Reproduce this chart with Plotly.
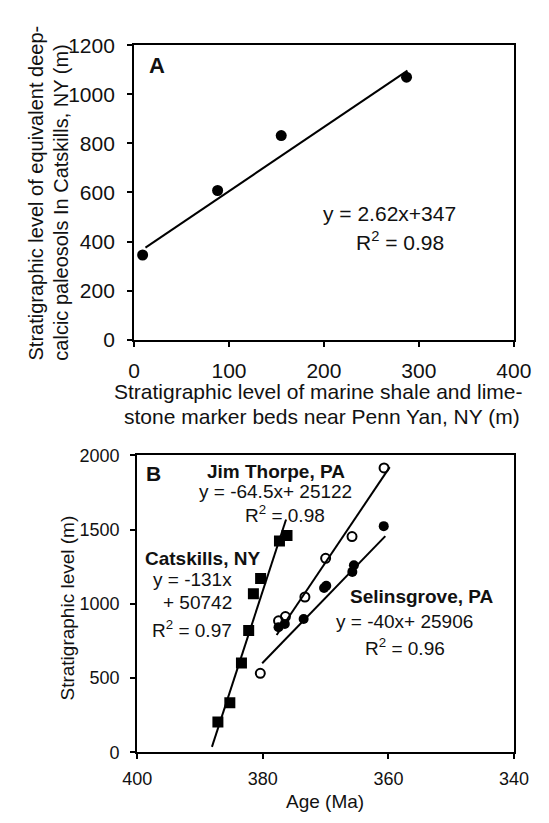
import plotly.graph_objects as go

W, H = 549, 823

# ---- Panel A data ----
a_x = [9, 88, 155, 287]
a_y = [345, 608, 832, 1070]
a_fit_x = [12, 288]
a_fit_y = [375, 1097]

# ---- Panel B data ----
cat_age = [387.15, 385.25, 383.4, 382.25, 381.5, 380.35, 377.35, 376.15]
cat_level = [204, 335, 602, 821, 1068, 1171, 1423, 1460]
cat_fit_age = [388.1, 376.3]
cat_fit_level = [37, 1568]

jt_age = [380.4, 377.5, 376.4, 373.3, 370.0, 365.8, 360.7]
jt_level = [532, 886, 914, 1046, 1306, 1453, 1915]
jt_fit_age = [377.8, 359.8]
jt_fit_level = [790, 1920]

sel_age = [377.5, 376.5, 373.5, 370.25, 369.9, 365.75, 365.5, 360.75]
sel_level = [843, 865, 898, 1106, 1122, 1215, 1260, 1523]
sel_fit_age = [380.1, 360.5]
sel_fit_level = [600, 1456]

a_xticks = [0, 100, 200, 300, 400]
a_yticks = [0, 200, 400, 600, 800, 1000, 1200]
b_xticks = [400, 380, 360, 340]
b_yticks = [0, 500, 1000, 1500, 2000]

FONT = "Liberation Sans, Arial, sans-serif"
INK = "#111111"


def px(x):
    return x / W


def py(y):
    return 1 - y / H


fig = go.Figure()

# Panel A
fig.add_trace(go.Scatter(x=a_fit_x, y=a_fit_y, mode="lines",
                         line=dict(color="black", width=2), xaxis="x", yaxis="y"))
fig.add_trace(go.Scatter(x=a_x, y=a_y, mode="markers",
                         marker=dict(symbol="circle", size=11, color="black"),
                         xaxis="x", yaxis="y"))

# Panel B
for fx, fy in [(cat_fit_age, cat_fit_level), (jt_fit_age, jt_fit_level), (sel_fit_age, sel_fit_level)]:
    fig.add_trace(go.Scatter(x=fx, y=fy, mode="lines",
                             line=dict(color="black", width=2), xaxis="x2", yaxis="y2"))
fig.add_trace(go.Scatter(x=cat_age, y=cat_level, mode="markers",
                         marker=dict(symbol="square", size=11, color="black"),
                         xaxis="x2", yaxis="y2"))
fig.add_trace(go.Scatter(x=jt_age, y=jt_level, mode="markers",
                         marker=dict(symbol="circle-open", size=9, color="black",
                                     line=dict(width=2, color="black")),
                         xaxis="x2", yaxis="y2"))
fig.add_trace(go.Scatter(x=sel_age, y=sel_level, mode="markers",
                         marker=dict(symbol="circle", size=10, color="black"),
                         xaxis="x2", yaxis="y2"))

axis_common = dict(showgrid=False, zeroline=False, showline=True, linecolor="black",
                   linewidth=2, mirror=True, ticks="outside", ticklen=5, tickwidth=2,
                   tickcolor="black")

fig.update_layout(
    width=W, height=H,
    margin=dict(l=0, r=0, t=0, b=0),
    paper_bgcolor="white", plot_bgcolor="white",
    showlegend=False,
    font=dict(family=FONT, color=INK),
    xaxis=dict(axis_common, domain=[px(126.7), px(530.7)], range=[0, 400],
               tickvals=a_xticks, tickfont=dict(size=21, color=INK),
               ticklabelstandoff=6, anchor="y"),
    yaxis=dict(axis_common, domain=[py(337), py(34.3)], range=[0, 1200],
               tickvals=a_yticks, tickfont=dict(size=21, color=INK),
               ticklabelstandoff=8, anchor="x"),
    xaxis2=dict(axis_common, domain=[px(130), px(531)], range=[400, 340],
                tickvals=b_xticks, tickfont=dict(size=18, color=INK),
                ticklabelstandoff=4, anchor="y2"),
    yaxis2=dict(axis_common, domain=[py(761.7), py(456)], range=[0, 2000],
                tickvals=b_yticks, tickfont=dict(size=18, color=INK),
                ticklabelstandoff=7, anchor="x2"),
)


def note(text, x, y, size, bold=False, angle=0, xanchor="center"):
    if bold:
        text = "<b>" + text + "</b>"
    fig.add_annotation(text=text, x=px(x), y=py(y), xref="paper", yref="paper",
                       showarrow=False, textangle=angle, xanchor=xanchor, yanchor="middle",
                       font=dict(family=FONT, size=size, color=INK))


# Panel A texts
note("Stratigraphic level of equivalent deep-", 22, 186, 20, angle=-90)
note("calcic paleosols In Catskills, NY (m)", 48, 196, 20, angle=-90)
note("Stratigraphic level of marine shale and lime-", 322.5, 390, 21)
note("stone marker beds near Penn Yan, NY (m)", 327, 416, 21)
note("A", 151, 55, 22, bold=True)
note("y = 2.62x+347", 398, 207, 21)
note("R<sup>2</sup> = 0.98", 410, 236, 21)

# Panel B texts
note("Stratigraphic level (m)", 56, 613, 19, angle=-90)
note("Age (Ma)", 330, 812, 19)
note("B", 147, 475, 21, bold=True)
note("Jim Thorpe, PA", 278, 473, 19, bold=True)
note("y = -64.5x+ 25122", 277, 493, 19)
note("R<sup>2</sup> = 0.98", 287, 516, 19)
note("Catskills, NY", 200, 562, 19, bold=True)
note("y = -131x", 233, 584, 19, xanchor="right")
note("+ 50742", 233, 607, 19, xanchor="right")
note("R<sup>2</sup> = 0.97", 233, 635, 19, xanchor="right")
note("Selinsgrove, PA", 433, 601, 19, bold=True)
note("y = -40x+ 25906", 414, 627, 19)
note("R<sup>2</sup> = 0.96", 415, 653, 19)

fig.write_html(
    "out.html",
    config={"displayModeBar": False},
    post_script="document.body.style.margin='0';document.body.style.overflow='hidden';",
)
